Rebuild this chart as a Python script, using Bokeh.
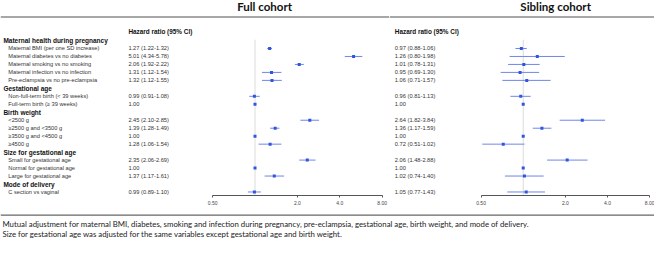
from bokeh.plotting import figure
from bokeh.models import Range1d, LogScale, LogAxis, FixedTicker, ColumnDataSource
from bokeh.layouts import row, column
from bokeh.core.properties import value
from bokeh.embed import file_html
from bokeh.resources import INLINE

# ---------------- data ----------------
sections = ["Maternal health during pregnancy", "Gestational age", "Birth weight",
            "Size for gestational age", "Mode of delivery"]
labels = ["Maternal BMI (per one SD increase)", "Maternal diabetes vs no diabetes",
          "Maternal smoking vs no smoking", "Maternal infection vs no infection",
          "Pre-eclampsia vs no pre-eclampsia",
          "Non-full-term birth (< 39 weeks)", "Full-term birth (\u2265 39 weeks)",
          "<2500 g", "\u22652500 g and <3500 g", "\u22653500 g and <4500 g", "\u22654500 g",
          "Small for gestational age", "Normal for gestational age", "Large for gestational age",
          "C section vs vaginal"]
section_of = [0, 0, 0, 0, 0, 1, 1, 2, 2, 2, 2, 3, 3, 3, 4]

full_hr = [1.27, 5.01, 2.06, 1.31, 1.32, 0.99, 1.00, 2.45, 1.39, 1.00, 1.28, 2.35, 1.00, 1.37, 0.99]
full_lo = [1.22, 4.34, 1.92, 1.12, 1.12, 0.91, None, 2.10, 1.28, None, 1.06, 2.06, None, 1.17, 0.89]
full_hi = [1.32, 5.78, 2.22, 1.54, 1.55, 1.08, None, 2.85, 1.49, None, 1.54, 2.69, None, 1.61, 1.10]

sib_hr = [0.97, 1.26, 1.01, 0.95, 1.06, 0.96, 1.00, 2.64, 1.36, 1.00, 0.72, 2.06, 1.00, 1.02, 1.05]
sib_lo = [0.88, 0.80, 0.78, 0.69, 0.71, 0.81, None, 1.82, 1.17, None, 0.51, 1.48, None, 0.74, 0.77]
sib_hi = [1.06, 1.98, 1.31, 1.30, 1.57, 1.13, None, 3.84, 1.59, None, 1.02, 2.88, None, 1.40, 1.43]

tick_vals = [0.5, 2.0, 4.0, 8.0]
tick_labels = ["0.50", "2.0", "4.0", "8.00"]

panel_titles = ["Full cohort", "Sibling cohort"]
col_header = "Hazard ratio (95% CI)"
caption = ["Mutual adjustment for maternal BMI, diabetes, smoking and infection during pregnancy, "
           "pre-eclampsia, gestational age, birth weight, and mode of delivery.",
           "Size for gestational age was adjusted for the same variables except gestational age and birth weight."]

# ---------------- layout ----------------
SX = 654 / 670
SY = 239 / 255
H_TOP = 210
H_CAP = 239 - H_TOP
BOTTOM = 15
SPLIT = 398.5
WL = round(SPLIT * SX)
WR = 654 - WL
FRAME_H = H_TOP - BOTTOM
Y_BOT = FRAME_H / SY
ROW0 = 42.7
ROWH = 8.505


def yr(y):
    return (y - ROW0) / ROWH


header_rows, item_rows = [], []
r = 0
for s in range(len(sections)):
    header_rows.append(r)
    r += 1
    for i, sec in enumerate(section_of):
        if sec == s:
            item_rows.append(r)
            r += 1


def fmt(h, l, u):
    return f"{h:.2f}" if l is None else f"{h:.2f} ({l:.2f}-{u:.2f})"


LBL = "Liberation Sans"
LBL_FONT = value(LBL)
TITLE_FONT = value("Lato")


def make_panel(name, x0, x1, width, title, title_x, text_x, ax0, dbl, hr, lo, hi, show_labels):
    p = figure(width=width, height=H_TOP, x_range=Range1d(x0, x1),
               y_range=Range1d(yr(Y_BOT), yr(0)), x_axis_type=None, y_axis_type=None,
               output_backend="svg", toolbar_location=None,
               min_border_left=0, min_border_right=0, min_border_top=0,
               min_border_bottom=BOTTOM, outline_line_color=None)
    p.extra_x_ranges = {name: Range1d(0.5 * 2 ** ((x0 - ax0) / dbl), 0.5 * 2 ** ((x1 - ax0) / dbl))}
    p.extra_x_scales = {name: LogScale()}

    ax = LogAxis(x_range_name=name, ticker=FixedTicker(ticks=tick_vals, minor_ticks=[]),
                 bounds=(tick_vals[0], tick_vals[-1]),
                 major_label_overrides={float(v): t for v, t in zip(tick_vals, tick_labels)},
                 major_tick_in=0, major_tick_out=2, minor_tick_line_color=None,
                 axis_line_color="#555555", major_tick_line_color="#555555",
                 major_label_text_font=LBL, major_label_text_font_size="5px",
                 major_label_text_color="#444444", major_label_standoff=3)
    p.add_layout(ax, "below")

    # title and top rule
    p.text(x=[title_x], y=[yr(6)], text=[title], text_font=TITLE_FONT, text_font_style="bold",
           text_font_size="11.5px", text_align="center", text_baseline="middle", text_color="#111111")
    p.segment(x0=[x0], x1=[x1], y0=[yr(17.7)], y1=[yr(17.7)], line_color="#8a8a8a", line_width=1.5)

    # column header & values
    p.text(x=[text_x], y=[yr(33.3)], text=[col_header], text_font=LBL_FONT, text_font_style="bold",
           text_font_size="6.4px", text_align="left", text_baseline="middle", text_color="#111111")
    vals = [fmt(h, l, u) for h, l, u in zip(hr, lo, hi)]
    p.text(x=[text_x] * len(vals), y=item_rows, text=vals, text_font=LBL_FONT,
           text_font_size="5.7px", text_align="left", text_baseline="middle", text_color="#333333")

    if show_labels:
        p.text(x=[3] * len(sections), y=header_rows, text=sections, text_font=LBL_FONT,
               text_font_style="bold", text_font_size="6.5px", text_align="left",
               text_baseline="middle", text_color="#111111")
        p.text(x=[8] * len(labels), y=item_rows, text=labels, text_font=LBL_FONT,
               text_font_size="5.7px", text_align="left", text_baseline="middle", text_color="#333333")

    # reference line at HR = 1
    p.segment(x0=[1.0], x1=[1.0], y0=[-0.1], y1=[yr(Y_BOT)], x_range_name=name,
              line_color="#dcdcdc", line_width=1)

    idx = [i for i in range(len(hr)) if lo[i] is not None]
    ci = ColumnDataSource(dict(lo=[lo[i] for i in idx], hi=[hi[i] for i in idx],
                               y=[item_rows[i] for i in idx]))
    p.segment(x0="lo", x1="hi", y0="y", y1="y", source=ci, x_range_name=name,
              line_color="#7086e8", line_width=1)
    p.scatter(x=hr, y=item_rows, marker="square", size=3.0, fill_color="#2f54e0",
              line_color=None, x_range_name=name)
    return p


pL = make_panel("full", 0, SPLIT, WL, panel_titles[0], 270.5, 131, 217.3, 43.43,
                full_hr, full_lo, full_hi, True)
pR = make_panel("sib", SPLIT, 670, WR, panel_titles[1], 568.7, 404, 492.3, 43.2,
                sib_hr, sib_lo, sib_hi, False)

pC = figure(width=654, height=H_CAP, x_range=Range1d(0, 670), y_range=Range1d(255, H_TOP / SY),
            x_axis_type=None, y_axis_type=None, output_backend="svg", toolbar_location=None,
            min_border=0, outline_line_color=None)
pC.segment(x0=[0], x1=[670], y0=[229], y1=[229], line_color="#666666", line_width=1.2)
pC.text(x=[2, 2], y=[238.3, 249], text=caption, text_font=TITLE_FONT, text_font_size="7.8px",
        text_align="left", text_baseline="middle", text_color="#222222")

layout = column(row(pL, pR), pC)
open("out.html", "w").write(file_html(layout, INLINE))
